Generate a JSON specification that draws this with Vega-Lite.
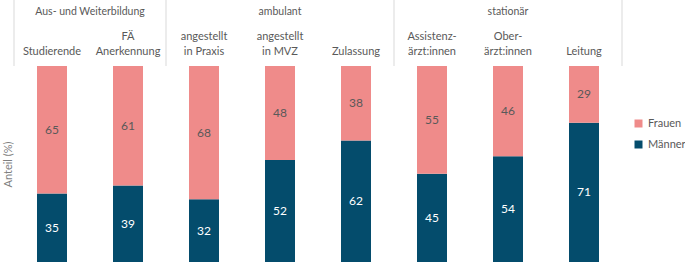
{
  "$schema": "https://vega.github.io/schema/vega-lite/v6.json",
  "width": 608,
  "height": 196,
  "autosize": "none",
  "padding": {"left": 14, "top": 66, "right": 63, "bottom": 1},
  "config": {
    "view": {"stroke": null},
    "font": "Lato",
    "text": {"font": "Lato"}
  },
  "datasets": {
    "shares": [
      {"cat": "Studierende", "sex": "Männer", "value": 35},
      {"cat": "Studierende", "sex": "Frauen", "value": 65},
      {"cat": "FÄ|Anerkennung", "sex": "Männer", "value": 39},
      {"cat": "FÄ|Anerkennung", "sex": "Frauen", "value": 61},
      {"cat": "angestellt|in Praxis", "sex": "Männer", "value": 32},
      {"cat": "angestellt|in Praxis", "sex": "Frauen", "value": 68},
      {"cat": "angestellt|in MVZ", "sex": "Männer", "value": 52},
      {"cat": "angestellt|in MVZ", "sex": "Frauen", "value": 48},
      {"cat": "Zulassung", "sex": "Männer", "value": 62},
      {"cat": "Zulassung", "sex": "Frauen", "value": 38},
      {"cat": "Assistenz-|ärzt:innen", "sex": "Männer", "value": 45},
      {"cat": "Assistenz-|ärzt:innen", "sex": "Frauen", "value": 55},
      {"cat": "Ober-|ärzt:innen", "sex": "Männer", "value": 54},
      {"cat": "Ober-|ärzt:innen", "sex": "Frauen", "value": 46},
      {"cat": "Leitung", "sex": "Männer", "value": 71},
      {"cat": "Leitung", "sex": "Frauen", "value": 29}
    ],
    "groupStarts": [
      {"cat": "Studierende"},
      {"cat": "angestellt|in Praxis"},
      {"cat": "Assistenz-|ärzt:innen"}
    ],
    "groupEnd": [{"cat": "Leitung"}],
    "groupTwo": [{"cat": "Studierende", "group": "Aus- und Weiterbildung"}],
    "groupThree": [
      {"cat": "angestellt|in MVZ", "group": "ambulant"},
      {"cat": "Ober-|ärzt:innen", "group": "stationär"}
    ]
  },
  "encoding": {
    "x": {
      "field": "cat",
      "type": "nominal",
      "sort": null,
      "scale": {
        "domain": ["Studierende", "FÄ|Anerkennung", "angestellt|in Praxis", "angestellt|in MVZ", "Zulassung", "Assistenz-|ärzt:innen", "Ober-|ärzt:innen", "Leitung"],
        "paddingInner": 0,
        "paddingOuter": 0
      },
      "axis": {
        "orient": "top",
        "title": null,
        "domain": false,
        "ticks": false,
        "labelAngle": 0,
        "labelExpr": "indexof(datum.label, '|') < 0 ? ['', datum.label] : split(datum.label, '|')",
        "labelFont": "Lato",
        "labelFontSize": 11,
        "labelColor": "#595959",
        "labelLineHeight": 15,
        "labelBaseline": "top",
        "labelPadding": 36
      }
    }
  },
  "layer": [
    {
      "data": {"name": "shares"},
      "mark": {"type": "bar", "width": 30},
      "encoding": {
        "y": {
          "field": "value",
          "type": "quantitative",
          "stack": "zero",
          "scale": {"domain": [0, 100]},
          "axis": {
            "title": "Anteil (%)",
            "labels": false,
            "ticks": false,
            "domain": false,
            "grid": false,
            "titleFont": "Lato",
            "titleFontSize": 11,
            "titleFontWeight": "normal",
            "titleColor": "#7f7f7f",
            "titlePadding": 1
          }
        },
        "color": {
          "field": "sex",
          "type": "nominal",
          "scale": {"domain": ["Frauen", "Männer"], "range": ["#EF8B8A", "#044C6C"]},
          "legend": {
            "title": null,
            "orient": "none",
            "legendX": 619,
            "legendY": 52,
            "padding": 0,
            "symbolType": "square",
            "symbolSize": 64,
            "symbolStrokeWidth": 0,
            "labelFont": "Lato",
            "labelFontSize": 11,
            "labelColor": "#595959",
            "rowPadding": 9,
            "labelOffset": 4
          }
        },
        "order": {"field": "sex", "sort": "descending"}
      }
    },
    {
      "data": {"name": "shares"},
      "mark": {"type": "text", "font": "Lato", "fontSize": 12},
      "encoding": {
        "y": {"field": "value", "type": "quantitative", "stack": "zero", "bandPosition": 0.5},
        "text": {"field": "value", "type": "quantitative"},
        "detail": {"field": "sex"},
        "order": {"field": "sex", "sort": "descending"},
        "color": {
          "condition": {"test": "datum.sex === 'Männer'", "value": "#ffffff"},
          "value": "#595959"
        }
      }
    },
    {
      "data": {"values": [{}]},
      "mark": {"type": "rule", "color": "#d9d9d9", "strokeWidth": 1},
      "encoding": {"y": {"datum": 0}}
    },
    {
      "data": {"name": "groupStarts"},
      "mark": {"type": "rule", "color": "#d9d9d9", "strokeWidth": 1},
      "encoding": {
        "x": {"field": "cat", "type": "nominal", "bandPosition": 0},
        "y": {"datum": 100},
        "y2": {"datum": 133.7}
      }
    },
    {
      "data": {"name": "groupEnd"},
      "mark": {"type": "rule", "color": "#d9d9d9", "strokeWidth": 1},
      "encoding": {
        "x": {"field": "cat", "type": "nominal", "bandPosition": 1},
        "y": {"datum": 100},
        "y2": {"datum": 133.7}
      }
    },
    {
      "data": {"name": "groupTwo"},
      "mark": {"type": "text", "font": "Lato", "fontSize": 10.5, "color": "#595959"},
      "encoding": {
        "x": {"field": "cat", "type": "nominal", "bandPosition": 1},
        "y": {"datum": 127.6},
        "text": {"field": "group"}
      }
    },
    {
      "data": {"name": "groupThree"},
      "mark": {"type": "text", "font": "Lato", "fontSize": 10.5, "color": "#595959"},
      "encoding": {
        "x": {"field": "cat", "type": "nominal", "bandPosition": 0.5},
        "y": {"datum": 127.6},
        "text": {"field": "group"}
      }
    }
  ]
}
